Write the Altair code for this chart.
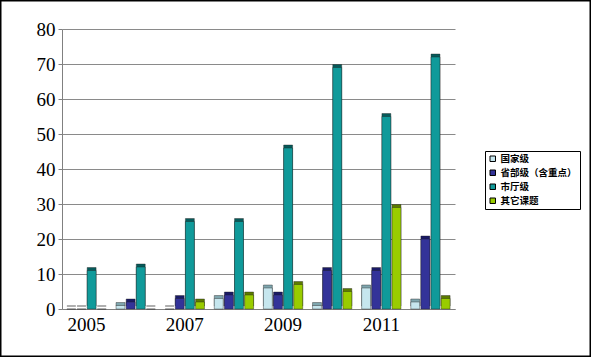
import altair as alt
import pandas as pd

years = ["2005", "2006", "2007", "2008", "2009", "2010", "2011", "2012"]
series = ["国家级", "省部级（含重点）", "市厅级", "其它课题"]
guojia = [0, 1, 0, 3, 6, 1, 6, 2]
shengbu = [0, 2, 3, 4, 4, 11, 11, 20]
shiting = [11, 12, 25, 25, 46, 69, 55, 72]
qita = [0, 0, 2, 4, 7, 5, 29, 3]
colors = ["#c6e6ee", "#333399", "#109a9a", "#99cc00"]
dark = ["#7fa6ae", "#1a1a66", "#065a5a", "#5c7a00"]

rows = []
for s, vals in zip(series, [guojia, shengbu, shiting, qita]):
    for y, v in zip(years, vals):
        rows.append({"year": y, "series": s, "value": v})
df = pd.DataFrame(rows)

W, H = 393, 280
L, T, R, B = 62, 29, 136, 48

xenc = alt.X("year:N", sort=years, title=None,
             scale=alt.Scale(paddingInner=0.2, paddingOuter=0.1),
             axis=alt.Axis(labelAngle=0, ticks=False, domainColor="#808080",
                           labelFont="Liberation Serif", labelFontSize=19,
                           labelColor="black", labelPadding=6,
                           labelExpr="indexof(['2005','2007','2009','2011'], datum.value) >= 0 ? datum.value : ''"))
xoff = alt.XOffset("series:N", sort=series, scale=alt.Scale(paddingInner=0.12))
yenc = alt.Y("value:Q", title=None,
             scale=alt.Scale(domain=[0, 80], nice=False),
             axis=alt.Axis(values=list(range(0, 81, 10)), grid=True, gridColor="#8a8a8a",
                           domainColor="#808080", tickColor="#808080", tickSize=4,
                           labelFont="Liberation Serif", labelFontSize=19,
                           labelColor="black", labelPadding=3))

side = alt.Chart(df).mark_bar(xOffset=3, yOffset=-3, stroke="#222", strokeWidth=0.4).encode(
    x=xenc, xOffset=xoff, y=yenc,
    color=alt.Color("series:N", sort=series, legend=None,
                    scale=alt.Scale(domain=series, range=dark)),
)
front = alt.Chart(df).mark_bar(stroke="#222", strokeWidth=0.4).encode(
    x=xenc, xOffset=xoff, y=yenc,
    color=alt.Color("series:N", sort=series, title=None,
                    scale=alt.Scale(domain=series, range=colors),
                    legend=alt.Legend(orient="none", legendX=485 - L, legendY=151 - T,
                                      symbolType="square", symbolSize=30,
                                      symbolStrokeColor="black", symbolStrokeWidth=1,
                                      labelFont="Noto Sans CJK SC", labelFontWeight="bold",
                                      labelFontSize=9.5, labelColor="black", labelOffset=3,
                                      strokeColor="black", padding=3, rowPadding=3,
                                      fillColor="white")),
)
frame = alt.Chart(alt.Data(values=[{"a": 1}])).mark_rect(
    fill=None, stroke="black", strokeWidth=1.5, clip=False
).encode(
    x=alt.value(-L + 0.75), x2=alt.value(W + R - 0.75),
    y=alt.value(-T + 0.75), y2=alt.value(H + B - 0.75),
)

chart = alt.layer(side, front, frame).resolve_scale(color="independent").properties(
    width=W, height=H, autosize="none",
    padding={"left": L, "top": T, "right": R, "bottom": B},
    background="white",
).configure_view(stroke=None)

chart.save("out.html", embed_options={"renderer": "svg", "actions": False})
